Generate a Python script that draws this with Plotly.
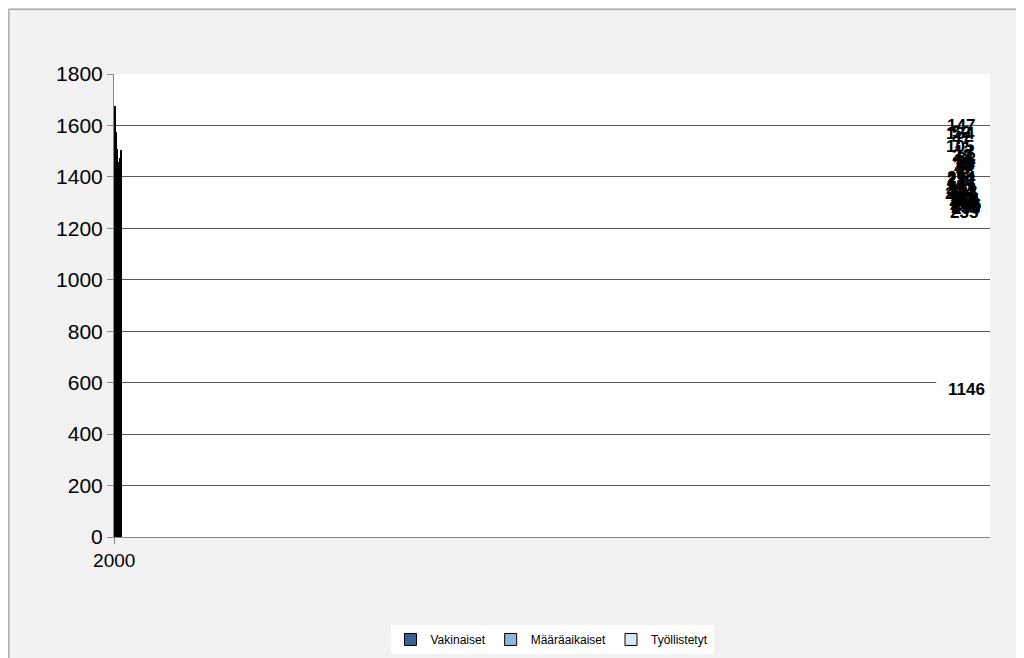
import plotly.graph_objects as go

years = [str(y) for y in range(2000, 2017)]
vakinaiset = [1210, 1210, 1255, 1252, 1246, 1222, 1203, 1184, 1190, 1143, 1170, 1160, 1154, 1175, 1150, 1128, 1146]
maaraaikaiset = [254, 293, 272, 294, 281, 251, 263, 252, 303, 235, 277, 267, 256, 274, 275, 296, 296]
tyollistetyt = [105, 134, 147, 52, 47, 24, 32, 18, 13, 9, 10, 17, 8, 21, 40, 37, 62]

fig = go.Figure()
series = [("Vakinaiset", vakinaiset, "#3a6094"),
          ("Määräaikaiset", maaraaikaiset, "#95b3d7"),
          ("Työllistetyt", tyollistetyt, "#dce6f2")]
for name, vals, col in series:
    fig.add_bar(x=years, y=vals, name=name, width=0.65,
                marker=dict(color=col, line=dict(color="black", width=1)))

lab_font = dict(family="Liberation Sans, Arial", size=17, color="black")
for i, yr in enumerate(years):
    fig.add_annotation(x=yr, y=vakinaiset[i] / 2, text="<b>%d</b>" % vakinaiset[i],
                       showarrow=False, font=lab_font, bgcolor="white", borderpad=4)
    fig.add_annotation(x=yr, y=vakinaiset[i] + maaraaikaiset[i] / 2, text="<b>%d</b>" % maaraaikaiset[i],
                       showarrow=False, font=lab_font)
    fig.add_annotation(x=yr, y=vakinaiset[i] + maaraaikaiset[i] + tyollistetyt[i] / 2,
                       text="<b>%d</b>" % tyollistetyt[i], showarrow=False, font=lab_font)

fig.update_layout(
    barmode="stack", width=1024, height=658,
    paper_bgcolor="#f2f2f2", plot_bgcolor="white",
    margin=dict(l=106, r=42, t=66, b=127),
    font=dict(family="Liberation Sans, Arial", color="black"),
    legend=dict(orientation="h", x=0.5, xanchor="center", y=-0.19, yanchor="top",
                bgcolor="white", font=dict(size=12), traceorder="normal"),
    xaxis=dict(type="category", tickfont=dict(size=19), showline=True, linecolor="#888",
               ticks="outside", ticklen=6, tickcolor="#888"),
    yaxis=dict(range=[0, 1800], dtick=200, tickfont=dict(size=21),
               gridcolor="#555", gridwidth=1, showline=True, linecolor="#888",
               ticks="outside", ticklen=6, tickcolor="#888"),
    shapes=[dict(type="rect", xref="paper", yref="paper", x0=-0.12, x1=1.046,
                 y0=-0.27, y1=1.14, line=dict(color="#888", width=1))],
)
fig.write_html("out.html")
